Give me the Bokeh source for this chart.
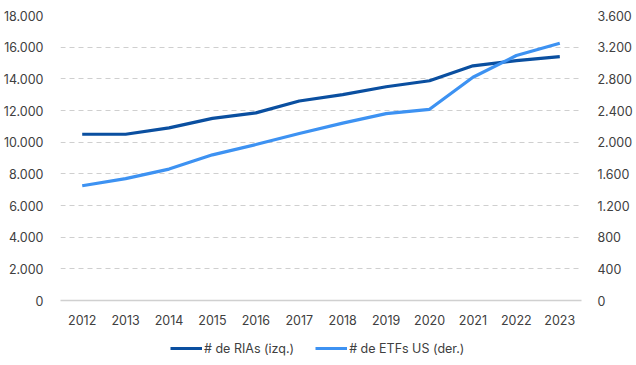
from bokeh.plotting import figure
from bokeh.layouts import column
from bokeh.models import Range1d, LinearAxis, Legend, LegendItem, FixedTicker, CustomJSTickFormatter, ColumnDataSource
from bokeh.embed import file_html
from bokeh.resources import INLINE

years = [2012, 2013, 2014, 2015, 2016, 2017, 2018, 2019, 2020, 2021, 2022, 2023]
rias = [10500, 10500, 10900, 11500, 11850, 12600, 13000, 13500, 13880, 14820, 15150, 15400]
etfs = [1450, 1540, 1660, 1840, 1970, 2110, 2240, 2360, 2415, 2820, 3095, 3250]
left_ticks = [0, 2000, 4000, 6000, 8000, 10000, 12000, 14000, 16000, 18000]
right_ticks = [0, 400, 800, 1200, 1600, 2000, 2400, 2800, 3200, 3600]
label_rias = "# de RIAs (izq.)"
label_etfs = "# de ETFs US (der.)"

FONT = "Inter"
TXT = "#404040"
DARK = "#0a4fa0"
LIGHT = "#3d92f2"

src = ColumnDataSource(dict(year=years, rias=rias, etfs=etfs))

p = figure(frame_width=521, frame_height=285, output_backend="svg", toolbar_location=None,
           x_range=Range1d(2011.5, 2023.5), y_range=Range1d(0, 18000),
           min_border_left=60, min_border_right=0, min_border_top=15, min_border_bottom=30)
p.outline_line_color = None
p.extra_y_ranges = {"r": Range1d(0, 3600)}

fmt = CustomJSTickFormatter(code="return Math.round(tick).toString().replace(/\\B(?=(\\d{3})+(?!\\d))/g, '.');")

p.yaxis.ticker = FixedTicker(ticks=left_ticks)
p.yaxis.formatter = fmt
ra = LinearAxis(y_range_name="r", ticker=FixedTicker(ticks=right_ticks), formatter=fmt)
p.add_layout(ra, "right")

for ax in [p.yaxis[0], ra]:
    ax.axis_line_color = None
    ax.major_tick_line_color = None
    ax.minor_tick_line_color = None
    ax.major_label_text_font = FONT
    ax.major_label_text_font_size = "12.5px"
    ax.major_label_text_color = TXT
    ax.major_label_standoff = 10
p.yaxis[0].major_label_standoff = 11

p.xaxis.ticker = FixedTicker(ticks=years)
p.xaxis.axis_line_color = "#d0d0d0"
p.xaxis.axis_line_width = 1.5
p.xaxis.major_tick_line_color = None
p.xaxis.minor_tick_line_color = None
p.xaxis.major_label_text_font = FONT
p.xaxis.major_label_text_font_size = "12.5px"
p.xaxis.major_label_text_color = TXT
p.xaxis.major_label_standoff = 8

p.xgrid.grid_line_color = None
p.ygrid.ticker = FixedTicker(ticks=left_ticks[1:])
p.ygrid.grid_line_color = "#cfcfcf"
p.ygrid.grid_line_dash = "5 4"
p.ygrid.grid_line_width = 1

p.line("year", "rias", source=src, line_color=DARK, line_width=3.2)
p.line("year", "etfs", source=src, line_color=LIGHT, line_width=3.2, y_range_name="r")

# legend strip (its own small figure, no axes; its frame aligns with the chart's frame)
lf = figure(width=630, height=34, output_backend="svg", toolbar_location=None,
            x_range=Range1d(0, 1), y_range=Range1d(0, 1),
            x_axis_location=None, y_axis_location=None,
            min_border_left=0, min_border_right=0, min_border_top=0, min_border_bottom=0)
lf.grid.visible = False
lf.outline_line_color = None
g1 = lf.line(x=[5, 6], y=[5, 6], line_color=DARK, line_width=3.2)
g2 = lf.line(x=[5, 6], y=[5, 6], line_color=LIGHT, line_width=3.2)
legend = Legend(items=[LegendItem(label=label_rias, renderers=[g1]),
                       LegendItem(label=label_etfs, renderers=[g2])],
                orientation="horizontal", location=(110, 8),
                border_line_color=None, background_fill_alpha=0,
                label_text_font=FONT, label_text_font_size="12.5px", label_text_color=TXT,
                glyph_width=32, glyph_height=16, label_height=16, label_standoff=2,
                spacing=21, padding=0, margin=0)
lf.add_layout(legend, "center")

layout = column(p, lf, spacing=0)
open("out.html", "w").write(file_html(layout, INLINE))
